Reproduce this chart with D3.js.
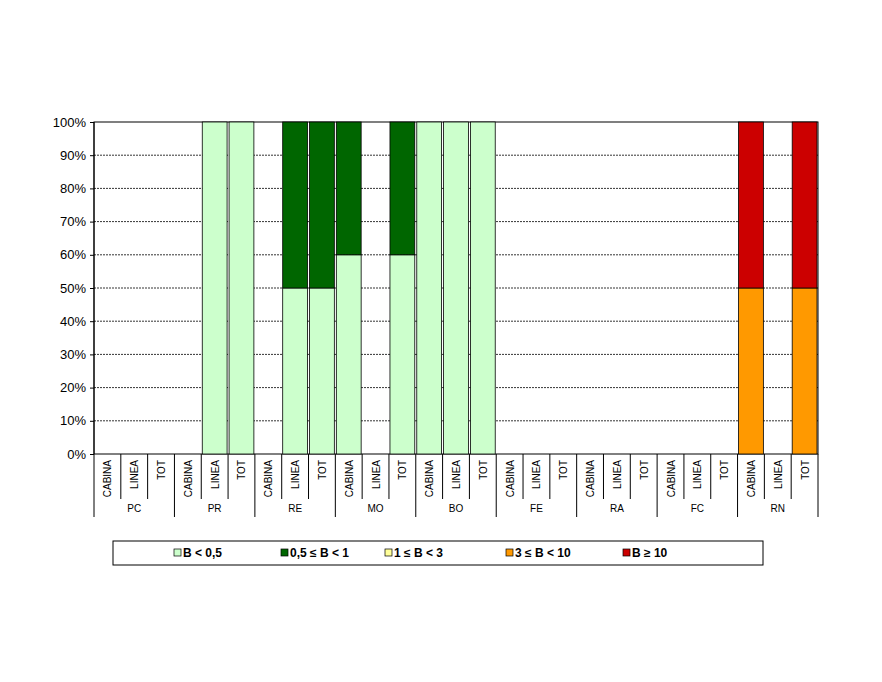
<!DOCTYPE html>
<html><head><meta charset="utf-8">
<script src="https://cdn.jsdelivr.net/npm/d3@7"></script>
<style>body{margin:0;background:#fff}text{font-family:Arial,"Liberation Sans",sans-serif}</style>
</head><body><div id="chart"></div>
<script>
let groups = ['PC', 'PR', 'RE', 'MO', 'BO', 'FE', 'RA', 'FC', 'RN']
let subs = ['CABINA', 'LINEA', 'TOT']
let classes = ['B < 0,5', '0,5 ≤ B < 1', '1 ≤ B < 3', '3 ≤ B < 10', 'B ≥ 10']
let colors = ['#ccffcc', '#006600', '#ffff99', '#ff9900', '#cc0000']
// percentage per class, one entry per column (group x sub)
let s0 = [0,0,0, 0,100,100, 0,50,50, 60,0,60, 100,100,100, 0,0,0, 0,0,0, 0,0,0, 0,0,0]
let s1 = [0,0,0, 0,0,0, 0,50,50, 40,0,40, 0,0,0, 0,0,0, 0,0,0, 0,0,0, 0,0,0]
let s2 = [0,0,0, 0,0,0, 0,0,0, 0,0,0, 0,0,0, 0,0,0, 0,0,0, 0,0,0, 0,0,0]
let s3 = [0,0,0, 0,0,0, 0,0,0, 0,0,0, 0,0,0, 0,0,0, 0,0,0, 0,0,0, 50,0,50]
let s4 = [0,0,0, 0,0,0, 0,0,0, 0,0,0, 0,0,0, 0,0,0, 0,0,0, 0,0,0, 50,0,50]
let yTicks = [0, 10, 20, 30, 40, 50, 60, 70, 80, 90, 100]

let cols = []
groups.forEach(g => subs.forEach(s => cols.push(g + '|' + s)))
let rows = cols.map((c, i) => ({ c, v: [s0[i], s1[i], s2[i], s3[i], s4[i]] }))

let svg = d3.select('#chart').append('svg').attr('width', 882).attr('height', 682)

let pLeft = 94, pRight = 818, pTop = 122, pBottom = 454
let x = d3.scaleBand().domain(cols).range([pLeft, pRight])
let y = d3.scaleLinear().domain([0, 100]).range([pBottom, pTop])

svg.append('rect').attr('x', pLeft).attr('y', pTop).attr('width', pRight - pLeft).attr('height', pBottom - pTop)
    .attr('fill', '#fff').attr('stroke', '#000')

svg.selectAll('.grid').data(yTicks.slice(1, -1)).enter().append('line')
    .attr('x1', pLeft).attr('x2', pRight).attr('y1', d => y(d)).attr('y2', d => y(d))
    .attr('stroke', '#000').attr('stroke-dasharray', '2,1').attr('stroke-width', 0.8)

let stack = d3.stack().keys([0, 1, 2, 3, 4]).value((d, k) => d.v[k])(rows)
svg.selectAll('.layer').data(stack).enter().append('g')
    .attr('fill', (d, i) => colors[i])
    .selectAll('rect').data(d => d.filter(p => p[1] > p[0])).enter().append('rect')
    .attr('x', d => x(d.data.c) + 1)
    .attr('width', x.bandwidth() - 2)
    .attr('y', d => y(d[1]))
    .attr('height', d => y(d[0]) - y(d[1]))
    .attr('stroke', '#000').attr('stroke-width', 0.8)

let yAxis = d3.axisLeft(y).tickValues(yTicks).tickFormat(d => d + '%').tickSize(4)
svg.append('g').attr('transform', `translate(${pLeft},0)`).call(yAxis)
    .call(g => g.select('.domain').remove())
    .selectAll('text').attr('font-size', 13).attr('fill', '#000').attr('x', -8)
svg.append('line').attr('x1', pLeft).attr('x2', pLeft).attr('y1', pTop).attr('y2', pBottom).attr('stroke', '#000')

// category axis
let ax = svg.append('g')
cols.forEach((c, i) => {
    let x0 = x(c)
    let isGroupStart = i % 3 === 0
    ax.append('line').attr('x1', x0).attr('x2', x0).attr('y1', pBottom)
        .attr('y2', isGroupStart ? 517 : 499).attr('stroke', '#000')
    ax.append('text').text(c.split('|')[1])
        .attr('transform', `translate(${x0 + x.bandwidth() / 2 + 4},${pBottom + 6}) rotate(-90)`)
        .attr('text-anchor', 'end').attr('font-size', 10)
})
ax.append('line').attr('x1', pRight).attr('x2', pRight).attr('y1', pBottom).attr('y2', 517).attr('stroke', '#000')
groups.forEach((g, i) => {
    let xs = x(cols[i * 3]), xe = x(cols[i * 3 + 2]) + x.bandwidth()
    ax.append('text').text(g).attr('x', (xs + xe) / 2).attr('y', 512)
        .attr('text-anchor', 'middle').attr('font-size', 10)
})

// legend
let lg = svg.append('g')
lg.append('rect').attr('x', 113).attr('y', 541).attr('width', 650).attr('height', 24)
    .attr('fill', '#fff').attr('stroke', '#000')
classes.forEach((c, i) => {
    let gx = [174, 281, 385, 506, 623][i]
    lg.append('rect').attr('x', gx).attr('y', 549).attr('width', 7).attr('height', 7)
        .attr('fill', colors[i]).attr('stroke', '#000').attr('stroke-width', 0.7)
    lg.append('text').text(c).attr('x', gx + 9).attr('y', 557)
        .attr('font-size', 12).attr('font-weight', 'bold')
})
</script></body></html>
